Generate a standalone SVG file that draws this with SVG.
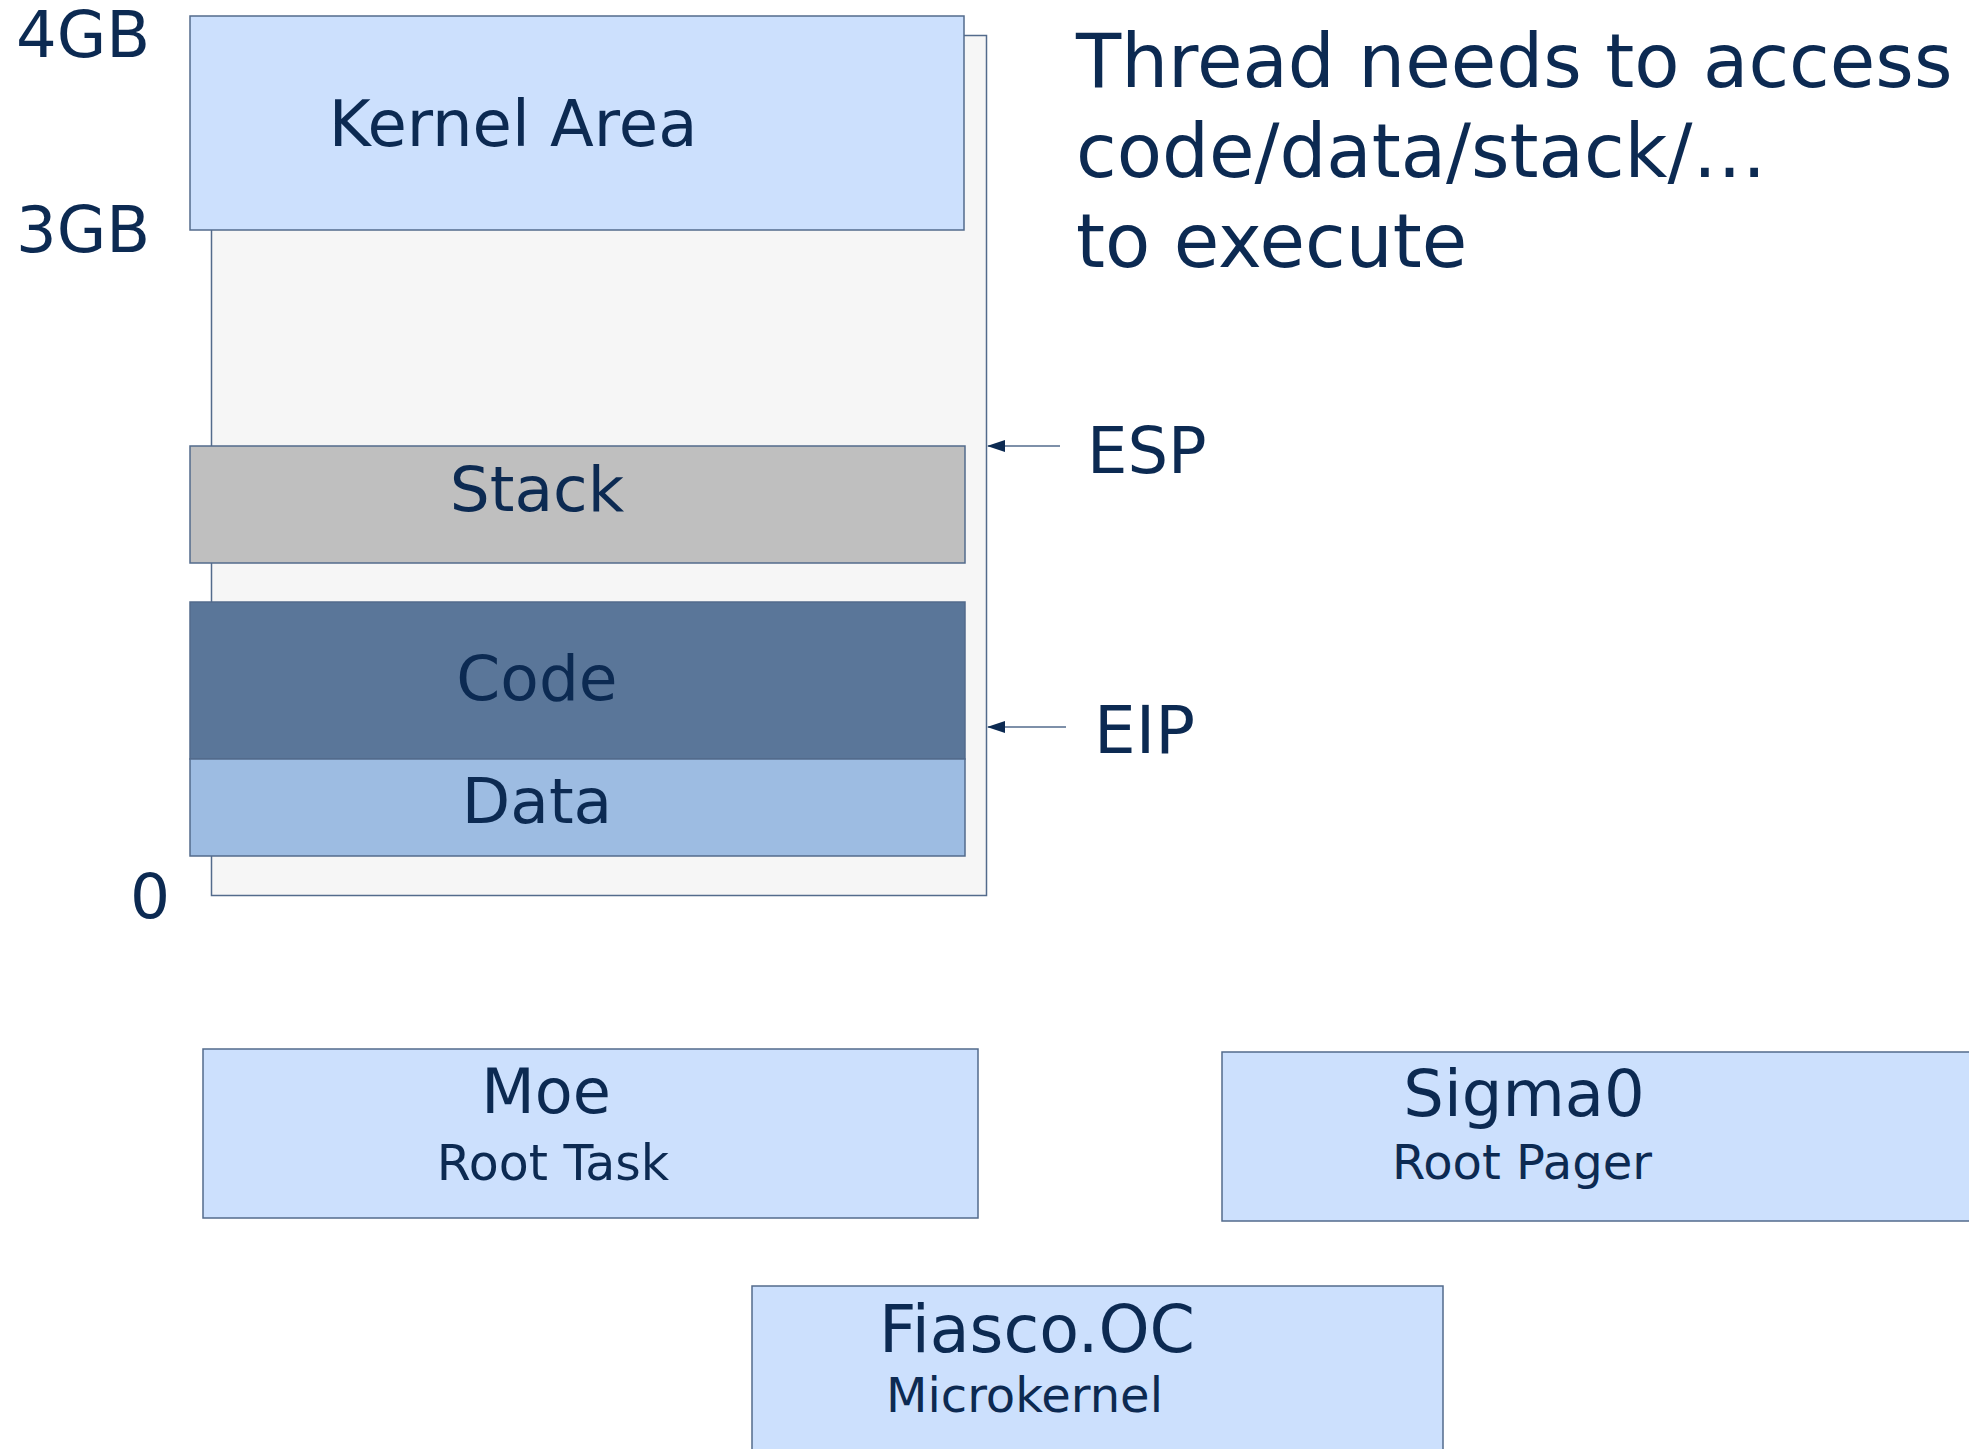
<svg xmlns="http://www.w3.org/2000/svg" width="1969" height="1449" viewBox="0 0 1969 1449">
<style>
text{font-family:"DejaVu Sans","Verdana",sans-serif;fill:#0c2a52}
.box{stroke:#536b8c;stroke-width:1.5}
.lbl{font-size:63px}
.sub{font-size:48px}
.mid{text-anchor:middle}
.conn{stroke:#536b8c;stroke-width:1.5;fill:none}
</style>
<defs>
<marker id="ah" markerWidth="18" markerHeight="12" refX="17" refY="6" orient="auto" markerUnits="userSpaceOnUse">
<path d="M0,0 L18,6 L0,12 Z" fill="#0c2a52"/>
</marker>
</defs>
<rect width="1969" height="1449" fill="#ffffff"/>
<g id="address-space">
<rect class="box" x="211.5" y="35.5" width="775" height="860" fill="#f6f6f6"/>
</g>
<g id="kernel-area">
<rect class="box" x="190" y="16" width="774" height="214" fill="#cce0fd"/>
<text class="lbl mid" x="513" y="146" style="font-size:64px">Kernel Area</text>
</g>
<g id="stack">
<rect class="box" x="190" y="446" width="775" height="117" fill="#bfbfbf"/>
<text class="lbl mid" x="537" y="511">Stack</text>
</g>
<g id="code">
<rect class="box" x="190" y="602" width="775" height="157" fill="#5a7699"/>
<text class="lbl mid" x="537" y="700">Code</text>
</g>
<g id="data">
<rect class="box" x="190" y="759" width="775" height="97" fill="#9dbce2"/>
<text class="lbl mid" x="537" y="823">Data</text>
</g>
<g id="axis-labels">
<text class="lbl" x="16" y="57" style="font-size:64px">4GB</text>
<text class="lbl" x="16" y="252" style="font-size:64px">3GB</text>
<text class="lbl" x="130" y="918">0</text>
</g>
<g id="connectors">
<line class="conn" x1="1060" y1="446" x2="988" y2="446" marker-end="url(#ah)"/>
<line class="conn" x1="1066" y1="727" x2="988" y2="727" marker-end="url(#ah)"/>
</g>
<g id="esp">
<text class="lbl" x="1087" y="473" style="font-size:64px">ESP</text>
</g>
<g id="eip">
<text class="lbl" x="1094" y="753" style="font-size:66px">EIP</text>
</g>
<g id="title">
<text x="1076" y="87" style="font-size:74px">Thread needs to access</text>
<text x="1076" y="177" style="font-size:74px">code/data/stack/…</text>
<text x="1076" y="267" style="font-size:74px">to execute</text>
</g>
<g id="moe">
<rect class="box" x="203" y="1049" width="775" height="169" fill="#cce0fd"/>
<text class="lbl mid" x="546" y="1113" style="font-size:62px">Moe</text>
<text class="sub mid" x="553" y="1180" style="font-size:49px">Root Task</text>
</g>
<g id="sigma0">
<rect class="box" x="1222" y="1052" width="760" height="169" fill="#cce0fd"/>
<text class="lbl mid" x="1524" y="1116" style="font-size:64px">Sigma0</text>
<text class="sub mid" x="1522" y="1179">Root Pager</text>
</g>
<g id="fiasco">
<rect class="box" x="752" y="1286" width="691" height="180" fill="#cce0fd"/>
<text class="lbl" x="879" y="1352" style="font-size:65px">Fiasco.OC</text>
<text class="sub" x="886" y="1412">Microkernel</text>
</g>
</svg>
